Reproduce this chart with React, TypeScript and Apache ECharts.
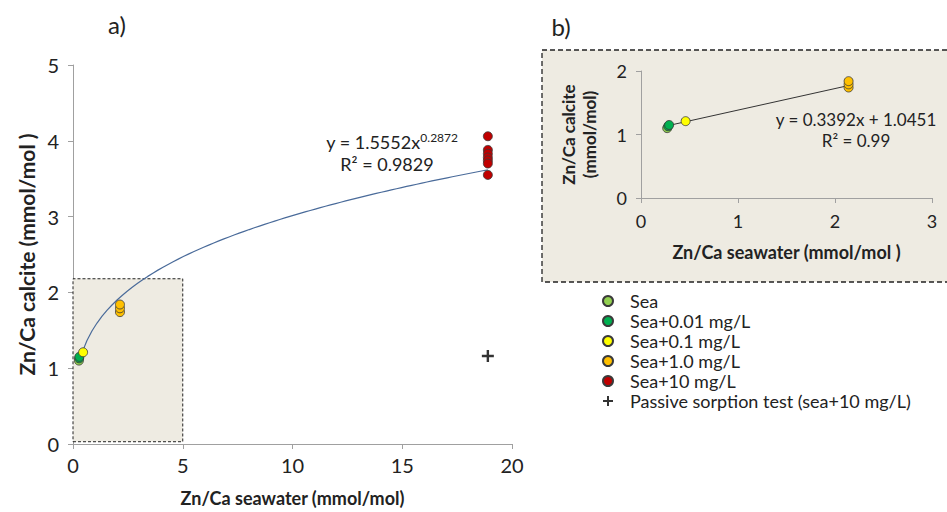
import { useEffect, useRef } from "react";
import * as echarts from "echarts";

// ---- data ----
const seaX = [0.27];
const seaY = [1.1];
const sea001X = [0.28, 0.29];
const sea001Y = [1.13, 1.15];
const sea01X = [0.46];
const sea01Y = [1.21];
const sea1X = [2.14, 2.14, 2.14];
const sea1Y = [1.74, 1.79, 1.84];
const sea10X = [18.9, 18.9, 18.9, 18.9, 18.9, 18.9, 18.9];
const sea10Y = [4.06, 3.88, 3.83, 3.78, 3.74, 3.7, 3.55];
const passiveX = [18.9];
const passiveY = [1.16];

// shaded zoom window on panel a)
const zoomBoxX = [0, 5];
const zoomBoxY = [0.03, 2.18];

// trendline coefficients (shown on the chart)
const powerA = 1.5552;
const powerB = 0.2872;
const powerRange = [0.4, 18.9];
const linSlope = 0.3392;
const linIntercept = 1.0451;
const linRange = [0.28, 2.14];

const xTicksMain = [0, 5, 10, 15, 20];
const yTicksMain = [0, 1, 2, 3, 4, 5];

const names = [
  "Sea",
  "Sea+0.01 mg/L",
  "Sea+0.1 mg/L",
  "Sea+1.0 mg/L",
  "Sea+10 mg/L",
  "Passive sorption test (sea+10 mg/L)",
];
const colors = ["#92d050", "#00b050", "#ffff00", "#ffc000", "#c00000", "#000000"];

const pairs = (xs: number[], ys: number[]) => xs.map((x, i) => [x, ys[i]]);

const FONT = 'Lato, "Open Sans", sans-serif';
const PLUS = "path://M4,0h2v4h4v2h-4v4h-2v-4h-4v-2h4z";

export default function App() {
  const ref = useRef<HTMLDivElement>(null);
  useEffect(() => {
    if (!ref.current) return;
    const chart = echarts.init(ref.current, undefined, { renderer: "svg" });

    const nSteps = 80;
    const powerPts: number[][] = [];
    for (let i = 0; i <= nSteps; i++) {
      const x = powerRange[0] + ((powerRange[1] - powerRange[0]) * i) / nSteps;
      powerPts.push([x, powerA * Math.pow(x, powerB)]);
    }
    const linPts = linRange.map((x) => [x, linSlope * x + linIntercept]);

    const axisLine = { lineStyle: { color: "#a0a0a0", width: 1 } };
    const axisTick = { show: true, inside: false, length: 5, lineStyle: { color: "#a0a0a0" } };

    const groups = [
      pairs(seaX, seaY),
      pairs(sea001X, sea001Y),
      pairs(sea01X, sea01Y),
      pairs(sea1X, sea1Y),
      pairs(sea10X, sea10Y),
    ];

    const mkScatter = (d: number[][], i: number, axis: number) => ({
      name: names[i],
      type: "scatter",
      xAxisIndex: axis,
      yAxisIndex: axis,
      data: d,
      symbol: "circle",
      symbolSize: 9,
      itemStyle: { color: colors[i], borderColor: "#3a3a3a", borderWidth: 0.8, opacity: 1 },
      z: 5,
    });
    const mainScatter = groups.map((d, i) => mkScatter(d, i, 0));
    const insetScatter = groups.slice(0, 4).map((d, i) => mkScatter(d, i, 1));

    const txt = (text: string, x: number, y: number, size: number, extra: any = {}) => ({
      type: "text",
      x,
      y,
      style: {
        text,
        fontSize: size,
        fill: "#222",
        align: "center",
        verticalAlign: "middle",
        fontFamily: FONT,
        ...extra,
      },
    });

    chart.setOption({
      animation: false,
      backgroundColor: "#ffffff",
      textStyle: { fontFamily: FONT },
      grid: [
        { left: 73, top: 65, width: 439, height: 383, containLabel: false },
        { left: 641, top: 71, width: 291, height: 127, containLabel: false },
      ],
      xAxis: [
        {
          type: "value",
          gridIndex: 0,
          min: xTicksMain[0],
          max: xTicksMain[xTicksMain.length - 1],
          interval: 5,
          axisLine,
          axisTick,
          splitLine: { show: false },
          axisLabel: { fontSize: 20, color: "#222", margin: 11, fontFamily: FONT },
          name: "Zn/Ca seawater (mmol/mol)",
          nameLocation: "middle",
          nameGap: 45,
          nameTextStyle: { fontSize: 18, fontWeight: "bold", color: "#222", fontFamily: FONT },
        },
        {
          type: "value",
          gridIndex: 1,
          min: 0,
          max: 3,
          interval: 1,
          axisLine,
          axisTick,
          splitLine: { show: false },
          axisLabel: { fontSize: 18, color: "#222", margin: 14, fontFamily: FONT },
          name: "Zn/Ca seawater (mmol/mol )",
          nameLocation: "middle",
          nameGap: 45,
          nameTextStyle: { fontSize: 18, fontWeight: "bold", color: "#222", fontFamily: FONT },
        },
      ],
      yAxis: [
        {
          type: "value",
          gridIndex: 0,
          min: yTicksMain[0],
          max: yTicksMain[yTicksMain.length - 1],
          interval: 1,
          axisLine: { show: true, ...axisLine },
          axisTick,
          splitLine: { show: false },
          axisLabel: { fontSize: 20, color: "#222", margin: 14, fontFamily: FONT },
          name: "Zn/Ca calcite (mmol/mol )",
          nameLocation: "middle",
          nameGap: 36,
          nameRotate: 90,
          nameTextStyle: { fontSize: 21, fontWeight: "bold", color: "#222", fontFamily: FONT },
        },
        {
          type: "value",
          gridIndex: 1,
          min: 0,
          max: 2,
          interval: 1,
          axisLine: { show: true, ...axisLine },
          axisTick,
          splitLine: { show: false },
          axisLabel: { fontSize: 18, color: "#222", margin: 14, fontFamily: FONT },
          name: "Zn/Ca calcite\n(mmol/mol)",
          nameLocation: "middle",
          nameGap: 41,
          nameRotate: 90,
          nameTextStyle: {
            fontSize: 17,
            fontWeight: "bold",
            color: "#222",
            lineHeight: 21,
            fontFamily: FONT,
          },
        },
      ],
      legend: {
        data: names,
        orient: "vertical",
        left: 597,
        top: 287,
        itemWidth: 10,
        itemHeight: 10,
        itemGap: 2,
        textStyle: {
          fontSize: 18,
          color: "#222",
          lineHeight: 17.6,
          padding: [0, 0, 0, 12],
          fontFamily: FONT,
        },
        selectedMode: false,
      },
      graphic: [
        {
          type: "rect",
          z: -10,
          shape: { x: 542, y: 50, width: 420, height: 232 },
          style: { fill: "#eeebe2", stroke: "#222", lineWidth: 1.3, lineDash: [5, 3] },
        },
        txt("a)", 117, 24, 24),
        txt("b)", 561, 26, 24),
        txt("y = 1.5552x{sup|0.2872}", 392, 142, 18, {
          rich: {
            sup: { fontSize: 12, verticalAlign: "top", padding: [0, 0, 9, 0], fill: "#222", fontFamily: FONT },
          },
        }),
        txt("R² = 0.9829", 387, 164, 18),
        txt("y = 0.3392x + 1.0451", 856, 119, 17),
        txt("R² = 0.99", 856, 140, 17),
      ],
      series: [
        {
          name: "zoomWindow",
          type: "line",
          xAxisIndex: 0,
          yAxisIndex: 0,
          data: [],
          z: 1,
          silent: true,
          markArea: {
            silent: true,
            itemStyle: {
              color: "#eeebe2",
              borderColor: "#222",
              borderWidth: 1,
              borderType: [3, 2],
            },
            data: [[{ coord: [zoomBoxX[0], zoomBoxY[0]] }, { coord: [zoomBoxX[1], zoomBoxY[1]] }]],
          },
        },
        {
          name: "powerFit",
          type: "line",
          xAxisIndex: 0,
          yAxisIndex: 0,
          data: powerPts,
          showSymbol: false,
          symbol: "none",
          lineStyle: { color: "#4a6b9a", width: 1.2 },
          z: 3,
          silent: true,
        },
        ...mainScatter,
        {
          name: names[5],
          type: "scatter",
          xAxisIndex: 0,
          yAxisIndex: 0,
          data: pairs(passiveX, passiveY),
          symbol: PLUS,
          symbolSize: 12,
          itemStyle: { color: "#000" },
          z: 5,
        },
        {
          name: "linFit",
          type: "line",
          xAxisIndex: 1,
          yAxisIndex: 1,
          data: linPts,
          showSymbol: false,
          symbol: "none",
          lineStyle: { color: "#333", width: 1 },
          z: 3,
          silent: true,
        },
        ...insetScatter,
      ],
    });
    return () => chart.dispose();
  }, []);
  return (
    <div
      ref={ref}
      style={{ position: "fixed", left: 0, top: 0, width: 947, height: 512 }}
    />
  );
}
